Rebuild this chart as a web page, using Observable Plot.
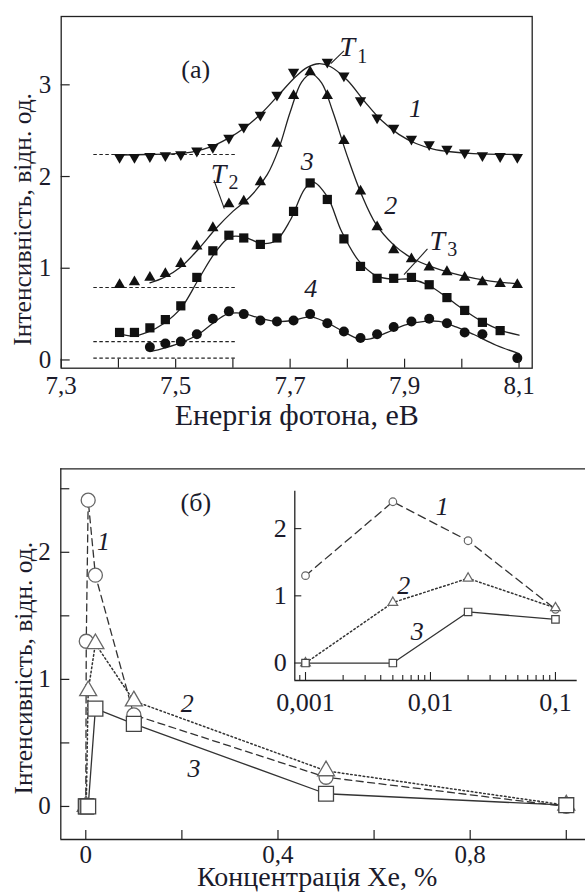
<!DOCTYPE html>
<html><head><meta charset="utf-8">
<script src="https://cdn.jsdelivr.net/npm/d3@7"></script>
<script src="https://cdn.jsdelivr.net/npm/@observablehq/plot@0.6"></script>
<style>
body{margin:0;background:#fff;}
#wrap{position:relative;width:585px;height:893px;overflow:hidden;background:#fff;}
#wrap svg{position:absolute;}
#wrap svg, #wrap svg text{font-family:"Liberation Serif","Times New Roman",serif !important;}
</style></head><body><div id="wrap"></div>
<script>
// ---------------- Panel (a) data ----------------
const energy = [7.402,7.428,7.455,7.482,7.509,7.537,7.565,7.593,7.619,7.648,7.677,7.706,7.735,7.765,7.794,7.823,7.852,7.881,7.912,7.943,7.974,8.005,8.036,8.067,8.097];
const curve1 = [2.21,2.21,2.22,2.23,2.24,2.28,2.32,2.42,2.54,2.67,2.89,3.14,null,3.25,3.10,2.83,2.64,2.53,2.41,2.35,2.30,2.26,2.23,2.22,2.21];
const curve2 = [0.82,0.85,0.90,0.94,1.05,1.24,1.44,1.70,1.73,1.94,2.36,2.88,3.14,2.88,2.39,1.84,1.45,1.20,1.10,1.01,0.96,0.90,0.85,0.83,0.82];
const curve3 = [0.30,0.30,0.35,0.44,0.59,0.90,1.19,1.36,1.33,1.26,1.33,1.62,1.93,1.75,1.32,1.02,0.89,0.89,0.90,0.82,0.68,0.54,0.41,0.32,null];
const curve4 = [null,null,0.14,0.18,0.20,0.28,0.45,0.53,0.50,0.43,0.42,0.43,0.50,0.40,0.31,0.24,0.28,0.36,0.42,0.45,0.40,0.30,0.28,null,0.02];

const fit1 = [[7.40,2.235],[7.45,2.24],[7.50,2.25],[7.53,2.27],[7.56,2.32],[7.59,2.41],[7.62,2.53],[7.65,2.69],[7.68,2.89],[7.71,3.09],[7.73,3.19],[7.75,3.23],[7.77,3.20],[7.80,3.05],[7.83,2.82],[7.86,2.61],[7.89,2.46],[7.92,2.36],[7.95,2.30],[7.98,2.27],[8.02,2.25],[8.10,2.24]];
const fit2 = [[7.455,0.84],[7.48,0.90],[7.51,1.02],[7.54,1.21],[7.57,1.43],[7.60,1.62],[7.63,1.78],[7.66,2.02],[7.68,2.30],[7.70,2.70],[7.72,3.03],[7.737,3.12],[7.755,3.02],[7.775,2.70],[7.80,2.22],[7.825,1.80],[7.85,1.48],[7.88,1.26],[7.91,1.12],[7.95,1.01],[8.00,0.92],[8.05,0.86],[8.10,0.83]];
const fit3 = [[7.40,0.29],[7.425,0.26],[7.45,0.30],[7.48,0.40],[7.51,0.57],[7.54,0.88],[7.57,1.18],[7.595,1.34],[7.62,1.34],[7.65,1.27],[7.675,1.30],[7.70,1.52],[7.725,1.86],[7.74,1.94],[7.765,1.78],[7.79,1.40],[7.82,1.08],[7.85,0.92],[7.88,0.88],[7.91,0.88],[7.94,0.82],[7.97,0.70],[8.00,0.56],[8.035,0.42],[8.07,0.32],[8.10,0.27]];
const fit4 = [[7.455,0.09],[7.48,0.13],[7.51,0.19],[7.54,0.28],[7.565,0.40],[7.59,0.50],[7.615,0.51],[7.645,0.46],[7.675,0.42],[7.705,0.43],[7.735,0.47],[7.76,0.42],[7.79,0.32],[7.82,0.23],[7.84,0.23],[7.87,0.30],[7.90,0.38],[7.935,0.42],[7.96,0.42],[7.99,0.36],[8.02,0.28],[8.06,0.16],[8.10,0.07]];

const baseLevels = [2.24, 0.79, 0.20, 0.02];
const baseSpan = [7.357, 7.607];

const xTicksA = [7.3,7.4,7.5,7.6,7.7,7.8,7.9,8.0,8.1];
const xLabelsA = [7.3,7.5,7.7,7.9,8.1];
const yTicksA = [0,1,2,3];
const xDomainA = [7.3, 8.123];
const yDomainA = [-0.09, 3.745];

const curveNums = [{x:7.919,y:2.74,t:"1"},{x:7.876,y:1.68,t:"2"},{x:7.730,y:2.16,t:"3"},{x:7.736,y:0.78,t:"4"}];
const tLabels = [{x:7.800,y:3.41,sub:"1"},{x:7.575,y:2.03,sub:"2"},{x:7.957,y:1.30,sub:"3"}];
const leaders = [{x1:7.771,y1:3.23,x2:7.794,y2:3.37},{x1:7.567,y1:1.96,x2:7.585,y2:1.65},{x1:7.940,y1:1.21,x2:7.899,y2:0.93}];
const panelLabelA = [{x:7.535,y:3.16,t:"(a)"}];

// ---------------- Panel (б) data ----------------
const xeConc = [0, 0.001, 0.005, 0.02, 0.1, 0.5, 1.0];
const mainS1 = [0, 1.30, 2.41, 1.82, 0.72, 0.23, 0.00];
const mainS2 = [0, 0.00, 0.91, 1.28, 0.83, 0.28, 0.01];
const mainS3 = [0, 0.00, 0.00, 0.77, 0.65, 0.10, 0.01];
const xTicksB = [0,0.2,0.4,0.6,0.8,1.0];
const xLabelsB = [0,0.4,0.8];
const yTicksB = [0,0.5,1,1.5,2,2.5];
const yLabelsB = [0,1,2];
const xDomainB = [-0.052, 1.04];
const yDomainB = [-0.26, 2.657];
const numsB = [{x:0.037,y:2.08,t:"1"},{x:0.211,y:0.81,t:"2"},{x:0.225,y:0.30,t:"3"}];
const panelLabelB = [{x:0.229,y:2.39,t:"(б)"}];

const insetConc = [0.001, 0.005, 0.02, 0.1];
const insetS1 = [1.30, 2.40, 1.82, 0.80];
const insetS2 = [0.00, 0.90, 1.26, 0.82];
const insetS3 = [0.00, 0.00, 0.76, 0.65];
const insetMajor = [0.001, 0.01, 0.1];
const insetMinor = [0.0009,0.002,0.003,0.004,0.005,0.006,0.007,0.008,0.009,0.02,0.03,0.04,0.05,0.06,0.07,0.08,0.09];
const insetYTicks = [0,1,2];
const insetXDomain = [0.000821, 0.1493];
const insetYDomain = [-0.26, 2.557];
const numsInset = [{x:0.0124,y:2.32,t:"1"},{x:0.0061,y:1.15,t:"2"},{x:0.00783,y:0.46,t:"3"}];

const xTitleA = "Енергія фотона, еВ";
const xTitleB = "Концентрація Хе, %";
const yTitle = "Інтенсивність, відн. од.";

// ---------------- helpers ----------------
const FONT = '"Liberation Serif","Times New Roman",serif';
const ink = "#1b1b2b";
const TICK_FS = 25, XT_FS = 30, YT_FS = 25.5;
const rows = (xs, ys) => xs.map((x, i) => ({x, y: ys[i]})).filter(d => d.y != null);
const pairs = p => p.map(([x, y]) => ({x, y}));
const comma = d => String(d).replace(".", ",");
const commaFixed = d => d.toFixed(1).replace(".", ",");

// ---------------- Plot (a) ----------------
const A = {w:585, h:440, ml:60.7, mr:53.3, mt:16, mb:72.3};
const pwA = A.w - A.ml - A.mr, phA = A.h - A.mt - A.mb;
const plotA = Plot.plot({
  width: A.w, height: A.h,
  marginLeft: A.ml, marginRight: A.mr, marginTop: A.mt, marginBottom: A.mb,
  x: {domain: xDomainA, label: null},
  y: {domain: yDomainA, label: null},
  style: {fontFamily: FONT, background: "transparent", color: ink, overflow: "visible"},
  marks: [
    Plot.ruleY(baseLevels.map(y => ({y, x1: baseSpan[0], x2: baseSpan[1]})), {y: "y", x1: "x1", x2: "x2", stroke: "#222", strokeWidth: 1.2, strokeDasharray: "3.5,2.5"}),
    Plot.line(pairs(fit1), {x: "x", y: "y", curve: "catmull-rom", stroke: "#222", strokeWidth: 1.3}),
    Plot.line(pairs(fit2), {x: "x", y: "y", curve: "catmull-rom", stroke: "#222", strokeWidth: 1.3}),
    Plot.line(pairs(fit3), {x: "x", y: "y", curve: "catmull-rom", stroke: "#222", strokeWidth: 1.3}),
    Plot.line(pairs(fit4), {x: "x", y: "y", curve: "catmull-rom", stroke: "#222", strokeWidth: 1.3}),
    Plot.dot(rows(energy, curve1), {x: "x", y: "y", symbol: "triangle", rotate: 180, r: 4.2, fill: "#111", stroke: "none"}),
    Plot.dot(rows(energy, curve2), {x: "x", y: "y", symbol: "triangle", r: 4.2, fill: "#111", stroke: "none"}),
    Plot.dot(rows(energy, curve3), {x: "x", y: "y", symbol: "square", r: 5.2, fill: "#111", stroke: "none"}),
    Plot.dot(rows(energy, curve4), {x: "x", y: "y", symbol: "circle", r: 5, fill: "#111", stroke: "none"}),
    Plot.link(leaders, {x1: "x1", y1: "y1", x2: "x2", y2: "y2", stroke: "#222", strokeWidth: 1.1}),
    Plot.text(tLabels, {x: "x", y: "y", text: () => "T", fontStyle: "italic", fontSize: 28, fill: ink}),
    Plot.text(tLabels, {x: "x", y: "y", text: "sub", dx: 15, dy: 9, fontSize: 20, fill: ink}),
    Plot.text(curveNums, {x: "x", y: "y", text: "t", fontStyle: "italic", fontSize: 26, fill: ink}),
    Plot.text(panelLabelA, {x: "x", y: "y", text: "t", fontSize: 26, fill: ink}),
    Plot.frame({stroke: "#222", strokeWidth: 1.3}),
    Plot.tickX(xTicksA, {x: d => d, insetTop: phA - 9, stroke: "#222", strokeWidth: 1.2}),
    Plot.tickY(yTicksA, {y: d => d, insetRight: pwA - 9, stroke: "#222", strokeWidth: 1.2}),
    Plot.axisX({ticks: xLabelsA, tickSize: 0, tickPadding: 8, fontSize: TICK_FS, tickFormat: commaFixed, label: null}),
    Plot.axisY({ticks: yTicksA, tickSize: 0, tickPadding: 10, fontSize: TICK_FS, tickFormat: d => String(d), label: null}),
    Plot.text([xTitleA], {text: d => d, frameAnchor: "bottom", textAnchor: "middle", lineAnchor: "middle", dy: 47, fontSize: XT_FS, fill: ink}),
    Plot.text([yTitle], {text: d => d, frameAnchor: "left", textAnchor: "middle", lineAnchor: "middle", rotate: -90, dx: -38, dy: 27, fontSize: YT_FS, fill: ink})
  ]
});
plotA.style.left = "0px"; plotA.style.top = "0px";

// ---------------- Plot (б) ----------------
const B = {w:585, h:453, ml:60.3, mr:0, mt:28.3, mb:54};
const pwB = B.w - B.ml - B.mr, phB = B.h - B.mt - B.mb;
const lineCol = "#333", symCol = "#666";
const plotB = Plot.plot({
  width: B.w, height: B.h,
  marginLeft: B.ml, marginRight: B.mr, marginTop: B.mt, marginBottom: B.mb,
  x: {domain: xDomainB, label: null},
  y: {domain: yDomainB, label: null},
  style: {fontFamily: FONT, background: "transparent", color: ink, overflow: "visible"},
  marks: [
    Plot.ruleX([xDomainB[0]], {stroke: "#222", strokeWidth: 1.3}),
    Plot.ruleY([yDomainB[0], yDomainB[1]], {stroke: "#222", strokeWidth: 1.3}),
    Plot.tickX(xTicksB, {x: d => d, insetTop: phB - 9, stroke: "#222", strokeWidth: 1.2}),
    Plot.tickY(yTicksB, {y: d => d, insetRight: pwB - 9, stroke: "#222", strokeWidth: 1.2}),
    Plot.line(rows(xeConc, mainS1), {x: "x", y: "y", stroke: lineCol, strokeWidth: 1.3, strokeDasharray: "7,4.5"}),
    Plot.line(rows(xeConc, mainS2), {x: "x", y: "y", stroke: lineCol, strokeWidth: 1.5, strokeDasharray: "1.6,2.6"}),
    Plot.line(rows(xeConc, mainS3), {x: "x", y: "y", stroke: lineCol, strokeWidth: 1.3}),
    Plot.dot(rows(xeConc, mainS1), {x: "x", y: "y", symbol: "circle", r: 7, fill: "white", stroke: symCol, strokeWidth: 1.3}),
    Plot.dot(rows(xeConc, mainS2), {x: "x", y: "y", symbol: "triangle", r: 6.3, fill: "white", stroke: symCol, strokeWidth: 1.3}),
    Plot.dot(rows(xeConc, mainS3), {x: "x", y: "y", symbol: "square", r: 8.4, fill: "white", stroke: "#444", strokeWidth: 1.3}),
    Plot.text(numsB, {x: "x", y: "y", text: "t", fontStyle: "italic", fontSize: 26, fill: ink}),
    Plot.text(panelLabelB, {x: "x", y: "y", text: "t", fontSize: 26, fill: ink}),
    Plot.axisX({ticks: xLabelsB, tickSize: 0, tickPadding: 6, fontSize: TICK_FS, tickFormat: comma, label: null}),
    Plot.axisY({ticks: yLabelsB, tickSize: 0, tickPadding: 10, fontSize: TICK_FS, tickFormat: d => String(d), label: null}),
    Plot.text([xTitleB], {text: d => d, frameAnchor: "bottom", textAnchor: "middle", lineAnchor: "middle", dx: -6, dy: 38, fontSize: 28, fill: ink}),
    Plot.text([yTitle], {text: d => d, frameAnchor: "left", textAnchor: "middle", lineAnchor: "middle", rotate: -90, dx: -37, dy: 14, fontSize: YT_FS, fill: ink})
  ]
});
plotB.style.left = "0px"; plotB.style.top = "440px";

// ---------------- Inset ----------------
const C = {w:335, h:245, ml:44.3, mr:8.3, mt:10.7, mb:45};
const pwC = C.w - C.ml - C.mr, phC = C.h - C.mt - C.mb;
const plotC = Plot.plot({
  width: C.w, height: C.h,
  marginLeft: C.ml, marginRight: C.mr, marginTop: C.mt, marginBottom: C.mb,
  x: {type: "log", domain: insetXDomain, label: null},
  y: {domain: insetYDomain, label: null},
  style: {fontFamily: FONT, background: "transparent", color: ink, overflow: "visible"},
  marks: [
    Plot.ruleX([insetXDomain[0]], {stroke: "#222", strokeWidth: 1.3}),
    Plot.ruleY([insetYDomain[0]], {stroke: "#222", strokeWidth: 1.3}),
    Plot.tickX(insetMajor, {x: d => d, insetTop: phC - 8, stroke: "#222", strokeWidth: 1.1}),
    Plot.tickX(insetMinor, {x: d => d, insetTop: phC - 5, stroke: "#222", strokeWidth: 1.1}),
    Plot.tickY(insetYTicks, {y: d => d, insetRight: pwC - 7, stroke: "#222", strokeWidth: 1.1}),
    Plot.line(rows(insetConc, insetS1), {x: "x", y: "y", stroke: lineCol, strokeWidth: 1.3, strokeDasharray: "8,5"}),
    Plot.line(rows(insetConc, insetS2), {x: "x", y: "y", stroke: lineCol, strokeWidth: 1.5, strokeDasharray: "1.6,2.6"}),
    Plot.line(rows(insetConc, insetS3), {x: "x", y: "y", stroke: lineCol, strokeWidth: 1.3}),
    Plot.dot(rows(insetConc, insetS1), {x: "x", y: "y", symbol: "circle", r: 3.8, fill: "white", stroke: symCol, strokeWidth: 1.2}),
    Plot.dot(rows(insetConc, insetS2), {x: "x", y: "y", symbol: "triangle", r: 3.6, fill: "white", stroke: symCol, strokeWidth: 1.2}),
    Plot.dot(rows(insetConc, insetS3), {x: "x", y: "y", symbol: "square", r: 4.2, fill: "white", stroke: "#444", strokeWidth: 1.2}),
    Plot.text(numsInset, {x: "x", y: "y", text: "t", fontStyle: "italic", fontSize: 26, fill: ink}),
    Plot.axisX({ticks: insetMajor, tickSize: 0, tickPadding: 12, fontSize: TICK_FS + 1, tickFormat: comma, label: null}),
    Plot.axisY({ticks: insetYTicks, tickSize: 0, tickPadding: 8, fontSize: TICK_FS + 1, tickFormat: d => String(d), label: null})
  ]
});
plotC.style.left = "250px"; plotC.style.top = "480px";

const wrap = document.getElementById("wrap");
wrap.append(plotA, plotB, plotC);
</script></body></html>
